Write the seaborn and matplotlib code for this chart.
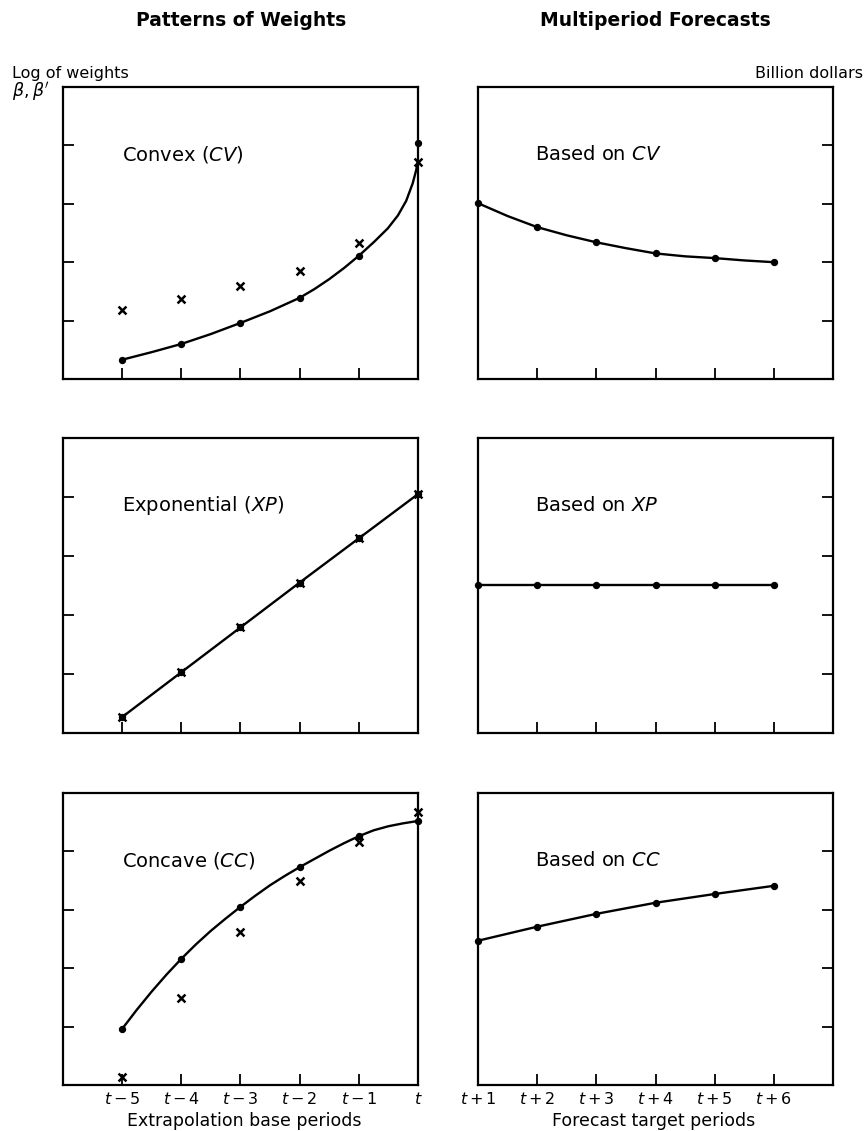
import numpy as np
import pandas as pd
import matplotlib
matplotlib.use("Agg")
import matplotlib.pyplot as plt
import seaborn as sns

# x positions: extrapolation base periods t-5..t, forecast targets t+1..t+6
base_periods = [1, 2, 3, 4, 5, 6]
base_labels = ["$t-5$", "$t-4$", "$t-3$", "$t-2$", "$t-1$", "$t$"]
target_periods = [1, 2, 3, 4, 5, 6]
target_labels = ["$t+1$", "$t+2$", "$t+3$", "$t+4$", "$t+5$", "$t+6$"]

# convex pattern (log of weights)
cv_beta = [0.33, 0.60, 0.96, 1.39, 2.11, 4.04]
cv_beta_prime = [1.18, 1.37, 1.59, 1.85, 2.33, 3.72]
cv_curve_x = [1, 1.5, 2, 2.5, 3, 3.5, 4, 4.25, 4.5, 4.75, 5, 5.26, 5.49, 5.66, 5.80, 5.91, 5.97, 6.0]
cv_curve_y = [0.33, 0.46, 0.60, 0.77, 0.96, 1.16, 1.39, 1.54, 1.71, 1.90, 2.11, 2.35, 2.58, 2.80, 3.05, 3.35, 3.58, 3.75]
cv_forecast = [3.01, 2.60, 2.34, 2.15, 2.07, 2.00]
cv_fc_curve_x = [1, 1.5, 2, 2.5, 3, 3.5, 4, 4.5, 5, 5.5, 6]
cv_fc_curve_y = [3.01, 2.79, 2.60, 2.46, 2.34, 2.24, 2.15, 2.10, 2.07, 2.03, 2.00]

# exponential pattern
xp_beta = [0.27, 1.03, 1.79, 2.55, 3.30, 4.05]
xp_beta_prime = [0.27, 1.03, 1.79, 2.55, 3.30, 4.05]
xp_forecast = [2.51, 2.51, 2.51, 2.51, 2.51, 2.51]

# concave pattern
cc_beta = [0.96, 2.16, 3.05, 3.73, 4.26, 4.52]
cc_beta_prime = [0.14, 1.49, 2.62, 3.49, 4.16, 4.67]
cc_curve_x = [1, 1.25, 1.5, 1.75, 2, 2.25, 2.5, 2.75, 3, 3.25, 3.5, 3.75, 4, 4.25, 4.5, 4.75, 5, 5.25, 5.5, 5.75, 6]
cc_curve_y = [0.96, 1.29, 1.60, 1.89, 2.16, 2.41, 2.64, 2.85, 3.05, 3.24, 3.42, 3.58, 3.73, 3.87, 4.01, 4.14, 4.26, 4.36, 4.43, 4.48, 4.52]
cc_forecast = [2.47, 2.71, 2.93, 3.12, 3.27, 3.41]

sns.set_style("ticks")
plt.rcParams['font.family'] = ['DejaVu Sans']
plt.rcParams['mathtext.fontset'] = 'dejavusans'
for k in ['text.color', 'axes.edgecolor', 'xtick.color', 'ytick.color', 'axes.labelcolor']:
    plt.rcParams[k] = 'black'

fig = plt.figure(figsize=(8.66, 11.31), dpi=100)

rows = [(0.6649, 0.2582), (0.3519, 0.2608), (0.0407, 0.2582)]
left_x, right_x, w = 0.0727, 0.552, 0.41


def style_axes(ax, right_side, xlim, labels, show_labels):
    ax.set_xlim(*xlim)
    ax.set_ylim(0, 5)
    ax.set_yticks([1, 2, 3, 4])
    ax.set_yticklabels([])
    ax.set_xticks([1, 2, 3, 4, 5, 6])
    if show_labels:
        ax.set_xticklabels(labels, fontsize=11.5)
    else:
        ax.set_xticklabels([])
    if right_side:
        ax.yaxis.tick_right()
    ax.tick_params(direction='in', length=8, width=1.3, pad=4)
    for s in ax.spines.values():
        s.set_visible(True)
        s.set_linewidth(1.6)
    ax.set_xlabel("")
    ax.set_ylabel("")


def weights_panel(ax, x, beta, beta_p, cx, cy):
    sns.lineplot(x=cx, y=cy, ax=ax, color='black', lw=1.7, sort=False, estimator=None)
    sns.scatterplot(x=x, y=beta, ax=ax, color='black', marker='o', s=28, linewidth=0, clip_on=False)
    sns.scatterplot(x=x, y=beta_p, ax=ax, color='black', marker='x', s=32, linewidth=1.8, clip_on=False)


def forecast_panel(ax, x, vals, cx, cy):
    sns.lineplot(x=cx, y=cy, ax=ax, color='black', lw=1.7, sort=False, estimator=None)
    sns.scatterplot(x=x, y=vals, ax=ax, color='black', marker='o', s=28, linewidth=0, clip_on=False)


left_names = ["Convex ($CV$)", "Exponential ($XP$)", "Concave ($CC$)"]
right_names = ["Based on $CV$", "Based on $XP$", "Based on $CC$"]
weights = [
    (cv_beta, cv_beta_prime, cv_curve_x, cv_curve_y),
    (xp_beta, xp_beta_prime, base_periods, xp_beta),
    (cc_beta, cc_beta_prime, cc_curve_x, cc_curve_y),
]
forecasts = [
    (cv_forecast, cv_fc_curve_x, cv_fc_curve_y),
    (xp_forecast, target_periods, xp_forecast),
    (cc_forecast, target_periods, cc_forecast),
]

for i, (b, h) in enumerate(rows):
    axl = fig.add_axes([left_x, b, w, h])
    beta, beta_p, cx, cy = weights[i]
    weights_panel(axl, base_periods, beta, beta_p, cx, cy)
    style_axes(axl, False, (0, 6), base_labels, i == 2)
    axl.text(0.165, 0.77, left_names[i], transform=axl.transAxes, fontsize=14, va='center', ha='left')

    axr = fig.add_axes([right_x, b, w, h])
    vals, cx, cy = forecasts[i]
    forecast_panel(axr, target_periods, vals, cx, cy)
    style_axes(axr, True, (1, 7), target_labels, i == 2)
    axr.text(0.16, 0.77, right_names[i], transform=axr.transAxes, fontsize=14, va='center', ha='left')

fig.text(0.278, 0.982, "Patterns of Weights", ha='center', va='center', fontsize=13.5, fontweight='bold')
fig.text(0.757, 0.982, "Multiperiod Forecasts", ha='center', va='center', fontsize=13.5, fontweight='bold')
fig.text(0.014, 0.935, "Log of weights", ha='left', va='center', fontsize=11.5)
fig.text(0.014, 0.919, "$\\beta, \\beta'$", ha='left', va='center', fontsize=12.5)
fig.text(0.997, 0.935, "Billion dollars", ha='right', va='center', fontsize=11.5)
fig.text(0.282, 0.009, "Extrapolation base periods", ha='center', va='center', fontsize=12.5)
fig.text(0.755, 0.009, "Forecast target periods", ha='center', va='center', fontsize=12.5)

fig.savefig("out.png", dpi=100)
